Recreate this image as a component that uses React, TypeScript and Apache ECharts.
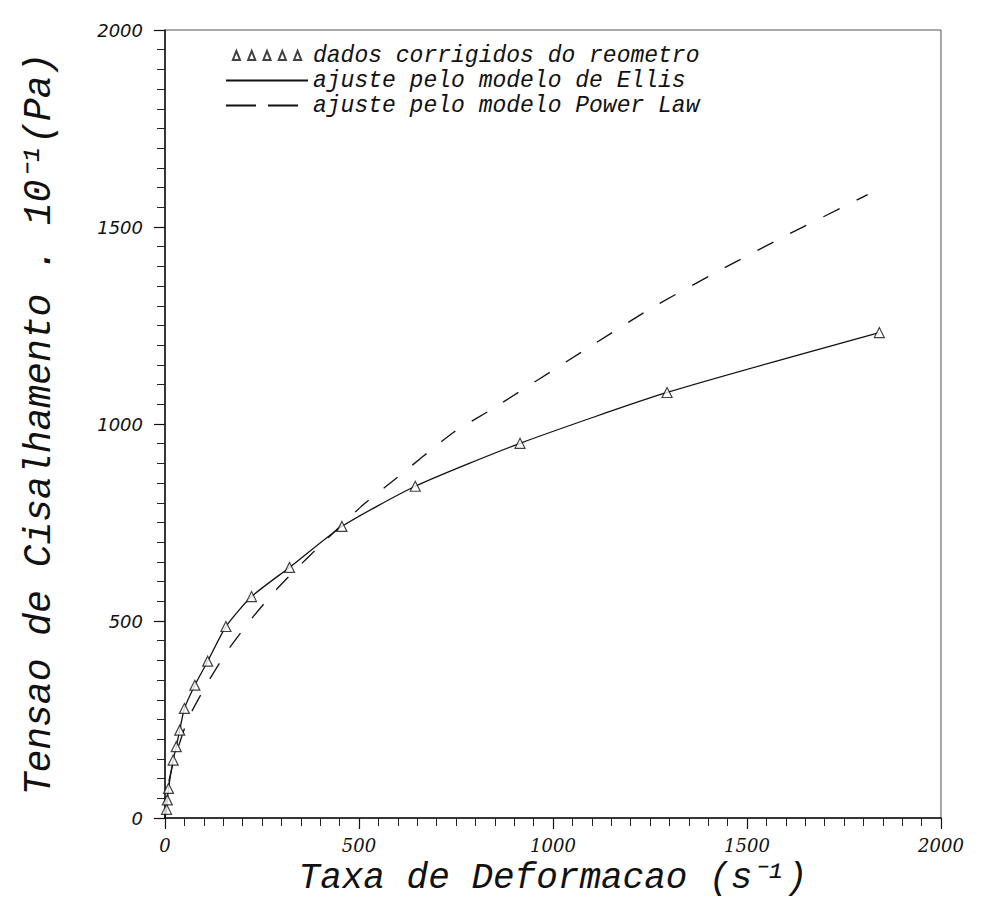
import React, { useEffect, useRef } from "react";
import * as echarts from "echarts";

// Experimental points (shear rate s^-1, shear stress 10^-1 Pa)
const dataRate = [4, 6, 9, 21, 29, 38, 50, 77, 110, 157, 223, 321, 456, 645, 915, 1294, 1841];
const dataStress = [22, 46, 75, 147, 181, 223, 278, 337, 398, 486, 562, 636, 740, 842, 951, 1080, 1232];

// Ellis model fit
const ellisRate = [0, 4, 6, 9, 21, 29, 38, 50, 77, 110, 157, 223, 321, 456, 645, 915, 1294, 1841];
const ellisStress = [0, 22, 46, 75, 147, 181, 223, 278, 337, 398, 486, 562, 636, 740, 842, 951, 1080, 1232];

// Power Law fit
const powerRate = [0, 5, 20, 59, 109, 162, 224, 290, 369, 504, 583, 744, 840, 1079, 1250, 1426, 1608, 1811];
const powerStress = [0, 68, 135, 250, 342, 426, 507, 583, 662, 789, 852, 979, 1036, 1186, 1292, 1388, 1482, 1582];

const legendNames = [
  "dados corrigidos do reometro",
  "ajuste pelo modelo de Ellis",
  "ajuste pelo modelo Power Law",
];

const xTitle = "Taxa de Deformacao (s⁻¹)";
const yTitle = "Tensao de Cisalhamento . 10⁻¹(Pa)";

const MONO = "Liberation Mono";
const SERIF = "DejaVu Serif";
const SANS = "DejaVu Sans";

const triIcon =
  "path://M0,10L4,0L8,10Z M17,10L21,0L25,10Z M34,10L38,0L42,10Z M51,10L55,0L59,10Z M68,10L72,0L76,10Z";

export default function App() {
  const ref = useRef<HTMLDivElement>(null);

  useEffect(() => {
    if (!ref.current) return;
    const chart = echarts.init(ref.current, undefined, { renderer: "svg" });

    const pairs = (xs: number[], ys: number[]) => xs.map((x, i) => [x, ys[i]]);

    const axisCommon = {
      type: "value" as const,
      min: 0,
      max: 2000,
      interval: 500,
      splitLine: { show: false },
      axisLine: { show: true, onZero: false, lineStyle: { color: "#111", width: 1.5 } },
      axisTick: { show: true, inside: false, length: 11, lineStyle: { color: "#111", width: 1.2 } },
      minorTick: { show: true, splitNumber: 10, length: 8, lineStyle: { color: "#222", width: 1 } },
      nameLocation: "middle" as const,
      nameMoveOverlap: false,
    };

    const nameStyle = {
      fontFamily: MONO,
      fontStyle: "italic" as const,
      lineHeight: 36,
      color: "#111",
    };

    chart.setOption({
      animation: false,
      backgroundColor: "#fff",
      grid: {
        left: 165,
        top: 30,
        width: 776,
        height: 788,
        containLabel: false,
        outerBoundsMode: "none",
        show: true,
        borderColor: "#555",
        borderWidth: 1,
        backgroundColor: "transparent",
      },
      xAxis: {
        ...axisCommon,
        name: xTitle,
        nameGap: 42,
        nameTextStyle: { ...nameStyle, fontSize: 36 },
        axisLabel: {
          fontFamily: SERIF,
          fontStyle: "italic",
          fontSize: 18,
          lineHeight: 20,
          color: "#111",
          margin: 17,
          formatter: (v: number) => String(v),
        },
      },
      yAxis: {
        ...axisCommon,
        name: yTitle,
        nameGap: 108,
        nameRotate: 90,
        nameTextStyle: { ...nameStyle, fontSize: 38 },
        axisLabel: {
          fontFamily: SANS,
          fontStyle: "italic",
          fontSize: 18,
          color: "#111",
          margin: 22,
          formatter: (v: number) => String(v),
        },
      },
      legend: {
        orient: "vertical",
        left: 220,
        top: 39,
        itemWidth: 82,
        itemHeight: 9,
        itemGap: 2,
        selectedMode: false,
        textStyle: {
          fontFamily: MONO,
          fontStyle: "italic",
          fontSize: 23,
          lineHeight: 23,
          color: "#111",
        },
        data: [
          { name: legendNames[0], icon: triIcon },
          { name: legendNames[1], itemStyle: { opacity: 0, color: "transparent", borderColor: "transparent" } },
          {
            name: legendNames[2],
            itemStyle: { opacity: 0, color: "transparent", borderColor: "transparent" },
            lineStyle: { type: [30, 12] },
          },
        ],
      },
      series: [
        {
          name: legendNames[1],
          type: "line",
          data: pairs(ellisRate, ellisStress),
          symbol: "none",
          smooth: 0.2,
          itemStyle: { color: "#111" },
          lineStyle: { color: "#111", width: 1.3 },
          z: 2,
        },
        {
          name: legendNames[2],
          type: "line",
          data: pairs(powerRate, powerStress),
          symbol: "none",
          smooth: 0.2,
          itemStyle: { color: "#111" },
          lineStyle: { color: "#111", width: 1.3, type: [18, 19] },
          z: 2,
        },
        {
          name: legendNames[0],
          type: "scatter",
          data: pairs(dataRate, dataStress),
          symbol: "triangle",
          symbolSize: 10,
          itemStyle: { color: "#fff", borderColor: "#111", borderWidth: 1.2 },
          z: 3,
        },
      ],
    });

    return () => chart.dispose();
  }, []);

  return (
    <div
      ref={ref}
      style={{ position: "fixed", left: 0, top: 0, width: 988, height: 904, background: "#fff" }}
    />
  );
}
